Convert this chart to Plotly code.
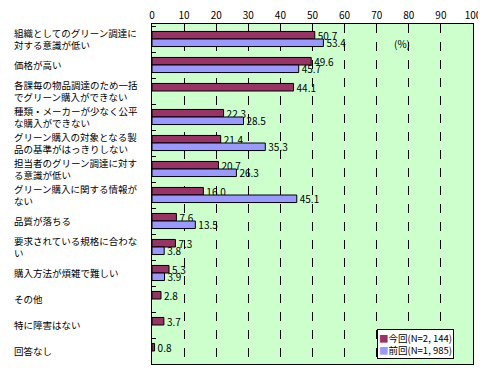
import plotly.graph_objects as go

categories = [
    "組織としてのグリーン調達に<br>対する意識が低い",
    "価格が高い",
    "各課毎の物品調達のため一括<br>でグリーン購入ができない",
    "種類・メーカーが少なく公平<br>な購入ができない",
    "グリーン購入の対象となる製<br>品の基準がはっきりしない",
    "担当者のグリーン調達に対す<br>る意識が低い",
    "グリーン購入に関する情報が<br>ない",
    "品質が落ちる",
    "要求されている規格に合わな<br>い",
    "購入方法が煩雑で難しい",
    "その他",
    "特に障害はない",
    "回答なし",
]
current = [50.7, 49.6, 44.1, 22.3, 21.4, 20.7, 16.0, 7.6, 7.3, 5.3, 2.8, 3.7, 0.8]
previous = [53.4, 45.7, None, 28.5, 35.3, 26.3, 45.1, 13.5, 3.8, 3.9, None, None, None]
series_names = ["今回(N=2, 144)", "前回(N=1, 985)"]
series_colors = ["#993366", "#9999FF"]
x_ticks = [0, 10, 20, 30, 40, 50, 60, 70, 80, 90, 100]

FONT = "Noto Sans CJK JP"

fig = go.Figure()
for name, vals, color in zip(series_names, [current, previous], series_colors):
    fig.add_trace(go.Bar(
        y=categories, x=vals, name=name, orientation="h",
        marker=dict(color=color, line=dict(color="black", width=1)),
        texttemplate="%{x:.1f}", textposition="outside",
        textfont=dict(size=10, color="black", family=FONT),
        constraintext="none", cliponaxis=False, showlegend=False,
    ))

for c in categories:
    fig.add_annotation(x=-0.436, xref="paper", y=c, yref="y", text=c,
                       showarrow=False, xanchor="left", align="left",
                       font=dict(size=9.5, color="black", family=FONT))

fig.add_annotation(x=78, xref="x", y=0.97, yref="paper", text="(%)",
                   showarrow=False, font=dict(size=10, color="black", family=FONT))

# legend box
legend_text = "<br>".join(
    f"<span style='color:{col}'>■</span>{nm}" for nm, col in zip(series_names, series_colors))
fig.add_annotation(x=0.701, xref="paper", y=0.103, yref="paper", text=legend_text,
                   showarrow=False, xanchor="left", yanchor="top", align="left",
                   bgcolor="white", bordercolor="black", borderwidth=1, borderpad=1,
                   font=dict(size=9.5, color="black", family=FONT))

fig.update_layout(
    width=478, height=367,
    margin=dict(l=144, r=13, t=16, b=11, autoexpand=False),
    paper_bgcolor="white", plot_bgcolor="#CCFFCC",
    barmode="group", bargap=0.42, bargroupgap=0,
    font=dict(family=FONT, size=10, color="black"),
    showlegend=False,
    xaxis=dict(range=[0, 100], side="top", tickvals=x_ticks, automargin=False,
               showgrid=True, gridcolor="black", griddash="dash", gridwidth=1,
               showline=True, linecolor="black", mirror=True, linewidth=1,
               zeroline=False, ticks="", tickfont=dict(size=10)),
    yaxis=dict(autorange="reversed", showticklabels=False, automargin=False,
               ticks="inside", ticklen=4, tickcolor="black", tickson="boundaries",
               showline=True, linecolor="black", mirror=True, linewidth=1,
               showgrid=False),
)

fig.write_html("out.html")
